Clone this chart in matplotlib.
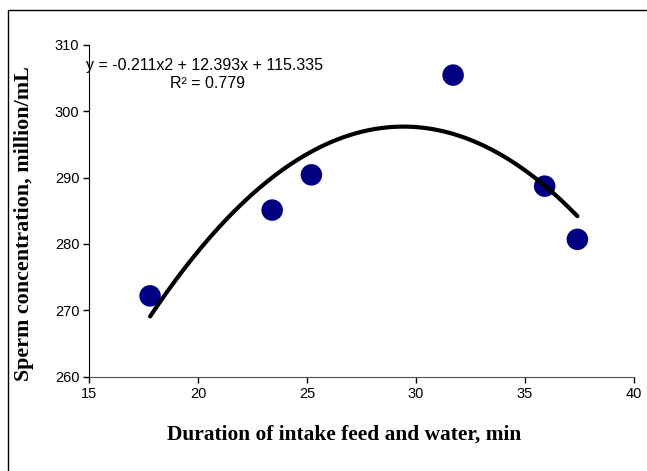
import numpy as np
import matplotlib
matplotlib.use("Agg")
import matplotlib.pyplot as plt
from matplotlib.patches import Rectangle

# data
duration = [17.8, 23.4, 25.2, 31.7, 35.9, 37.4]
sperm_conc = [272.2, 285.1, 290.4, 305.4, 288.7, 280.7]
eq_text = "y = -0.211x2 + 12.393x + 115.335"
r2_text = "R² = 0.779"
xticks = [15, 20, 25, 30, 35, 40]
yticks = [260, 270, 280, 290, 300, 310]

plt.rcParams["font.family"] = ["Liberation Sans", "DejaVu Sans"]

fig = plt.figure(figsize=(6.47, 4.71), dpi=100)
ax = fig.add_axes([0.1376, 0.1996, 0.8424, 0.7059])

# outer chart frame (runs off the right/bottom edge in the reference)
fig.patches.append(Rectangle((8 / 647, -0.2), 1.2, 1.2 - 10 / 471,
                             transform=fig.transFigure, fill=False,
                             edgecolor="black", linewidth=1.0))

# second-order polynomial trendline
coef = np.polyfit(duration, sperm_conc, 2)
xs = np.linspace(min(duration), max(duration), 200)
ax.plot(xs, np.polyval(coef, xs), color="black", linewidth=3.0,
        solid_capstyle="round", zorder=3)

ax.scatter(duration, sperm_conc, s=240, color="#000080", zorder=2,
           edgecolors="none")

ax.set_xlim(15, 40)
ax.set_ylim(260, 310)
ax.set_xticks(xticks)
ax.set_yticks(yticks)
ax.tick_params(direction="out", length=4, width=1, labelsize=10.5, pad=3,
               colors="black")
for side in ("top", "right"):
    ax.spines[side].set_visible(False)
ax.spines["left"].set_color("black")
ax.spines["bottom"].set_color("#505050")

ax.set_xlabel("Duration of intake feed and water, min",
              family="Liberation Serif", fontweight="bold", fontsize=15.4,
              va="center")
ax.xaxis.set_label_coords(0.468, -0.174)
ax.set_ylabel("Sperm concentration, million/mL",
              family="Liberation Serif", fontweight="bold", fontsize=15.8,
              va="center")
ax.yaxis.set_label_coords(-0.12, 0.46)

ax.text(0.211, 0.938, eq_text, transform=ax.transAxes, fontsize=11.5,
        ha="center", va="center")
ax.text(0.217, 0.884, r2_text, transform=ax.transAxes, fontsize=11.5,
        ha="center", va="center")

fig.savefig("out.png", dpi=100)
